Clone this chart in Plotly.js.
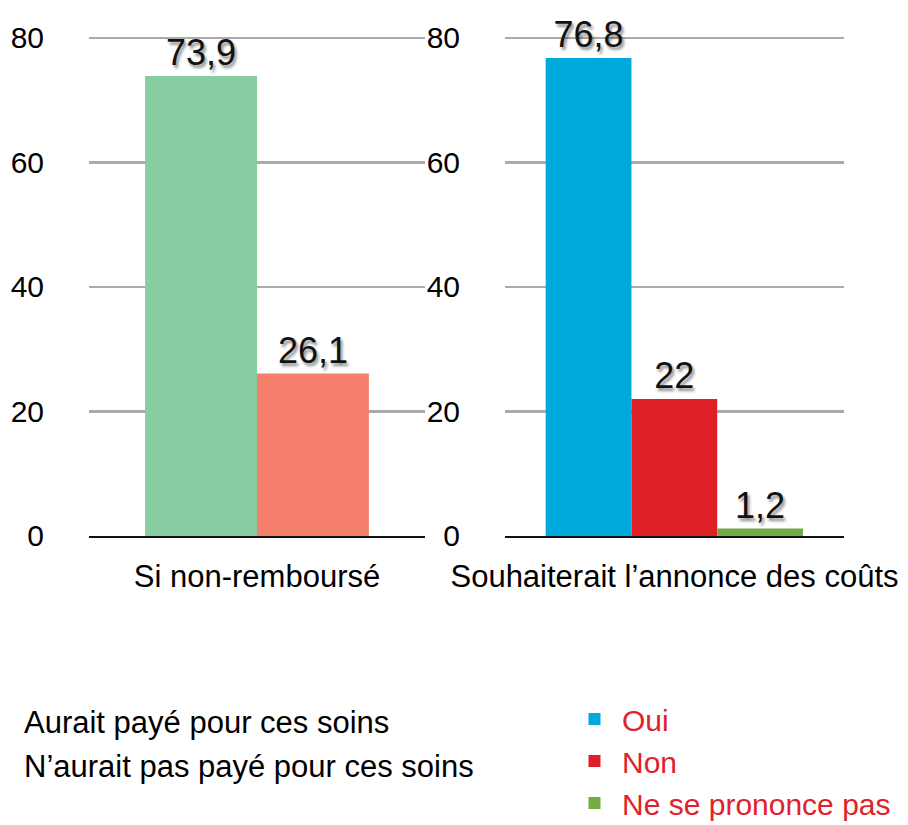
<!DOCTYPE html>
<html>
<head>
<meta charset="utf-8">
<script src="https://cdn.plot.ly/plotly-3.0.1.min.js"></script>
<style>
  html, body { margin: 0; padding: 0; background: #fff; }
  #chart { width: 908px; height: 825px; }
</style>
</head>
<body>
<div id="chart"></div>
<script>
// data
var leftCategory = ['Si non-rembours\u00e9']
var leftNames = ['Aurait pay\u00e9 pour ces soins', 'N\u2019aurait pas pay\u00e9 pour ces soins']
var leftValues = [73.9, 26.1]
var leftColors = ['#88cca2', '#f4806c']

var rightCategory = ['Souhaiterait l\u2019annonce des co\u00fbts']
var rightNames = ['Oui', 'Non', 'Ne se prononce pas']
var rightValues = [76.8, 22, 1.2]
var rightColors = ['#00a9dc', '#df1f26', '#72ac44']

var yTicks = [0, 20, 40, 60, 80]

// settings
var FONT = 'Liberation Sans, Arial, sans-serif'
var W = 908, H = 825
var leftOffsets = [-0.333, 0.0], leftWidth = 0.333
var rightOffsets = [-0.38, -0.127, 0.126], rightWidth = 0.253
var yTop = 80.6  // a bit over 80 so the top gridline shows

function fr(v) { return String(v).replace('.', ',') }
function px_x(p) { return p / W }
function px_y(p) { return 1 - p / H }

var labelFont = {family: FONT, size: 36, color: '#111',
	shadow: '2px 3px 3px rgba(0,0,0,0.45)'}

var traces = []
leftValues.forEach(function(v, i){
	traces.push({
		type: 'bar',
		x: leftCategory,
		y: [v],
		name: leftNames[i],
		xaxis: 'x', yaxis: 'y',
		width: leftWidth,
		offset: leftOffsets[i],
		marker: {color: leftColors[i]},
		text: [fr(v)],
		textposition: 'outside',
		textfont: labelFont,
		cliponaxis: false,
		showlegend: false,
		hoverinfo: 'skip'
	})
})
rightValues.forEach(function(v, i){
	traces.push({
		type: 'bar',
		x: rightCategory,
		y: [v],
		name: rightNames[i],
		xaxis: 'x2', yaxis: 'y2',
		width: rightWidth,
		offset: rightOffsets[i],
		marker: {color: rightColors[i]},
		text: [fr(v)],
		textposition: 'outside',
		textfont: labelFont,
		cliponaxis: false,
		showlegend: true,
		hoverinfo: 'skip'
	})
})

// y pixel of 80 is 38, of 0 is 536
var topPx = 536 - (536 - 38) * yTop / 80

function yAxis() {
	return {
		domain: [px_y(536), px_y(topPx)],
		range: [0, yTop],
		tickvals: yTicks,
		ticktext: yTicks.map(String),
		showgrid: true,
		gridcolor: '#aaaaaa',
		gridwidth: 2.5,
		zeroline: false,
		showline: false,
		ticks: '',
		ticklabelstandoff: 44,
		tickfont: {family: FONT, size: 30, color: '#000'},
		fixedrange: true
	}
}
function xAxis(d0, d1, anchor) {
	return {
		domain: [px_x(d0), px_x(d1)],
		anchor: anchor,
		type: 'category',
		range: [-0.5, 0.5],
		showline: true,
		linecolor: '#111',
		linewidth: 2,
		showgrid: false,
		ticks: '',
		ticklabelstandoff: 12,
		tickfont: {family: FONT, size: 31, color: '#000'},
		fixedrange: true
	}
}

var annotations = leftNames.map(function(n, i){
	return {
		text: n,
		xref: 'paper', yref: 'paper',
		x: px_x(22), y: px_y(722 + i * 44),
		xanchor: 'left', yanchor: 'middle',
		showarrow: false,
		font: {family: FONT, size: 31, color: '#000'}
	}
})

var layout = {
	width: W, height: H,
	margin: {l: 0, r: 0, t: 0, b: 0, autoexpand: false},
	paper_bgcolor: '#fff',
	plot_bgcolor: 'rgba(0,0,0,0)',
	barmode: 'overlay',
	xaxis: xAxis(89, 425, 'y'),
	yaxis: yAxis(),
	xaxis2: xAxis(505, 844, 'y2'),
	yaxis2: Object.assign(yAxis(), {anchor: 'x2'}),
	showlegend: true,
	legend: {
		x: px_x(567), y: px_y(693),
		xanchor: 'left', yanchor: 'top',
		orientation: 'v',
		itemwidth: 45,
		font: {family: FONT, size: 30, color: '#e0222c'},
		bgcolor: 'rgba(0,0,0,0)'
	},
	annotations: annotations
}

Plotly.newPlot('chart', traces, layout, {displayModeBar: false, staticPlot: true})
</script>
</body>
</html>
